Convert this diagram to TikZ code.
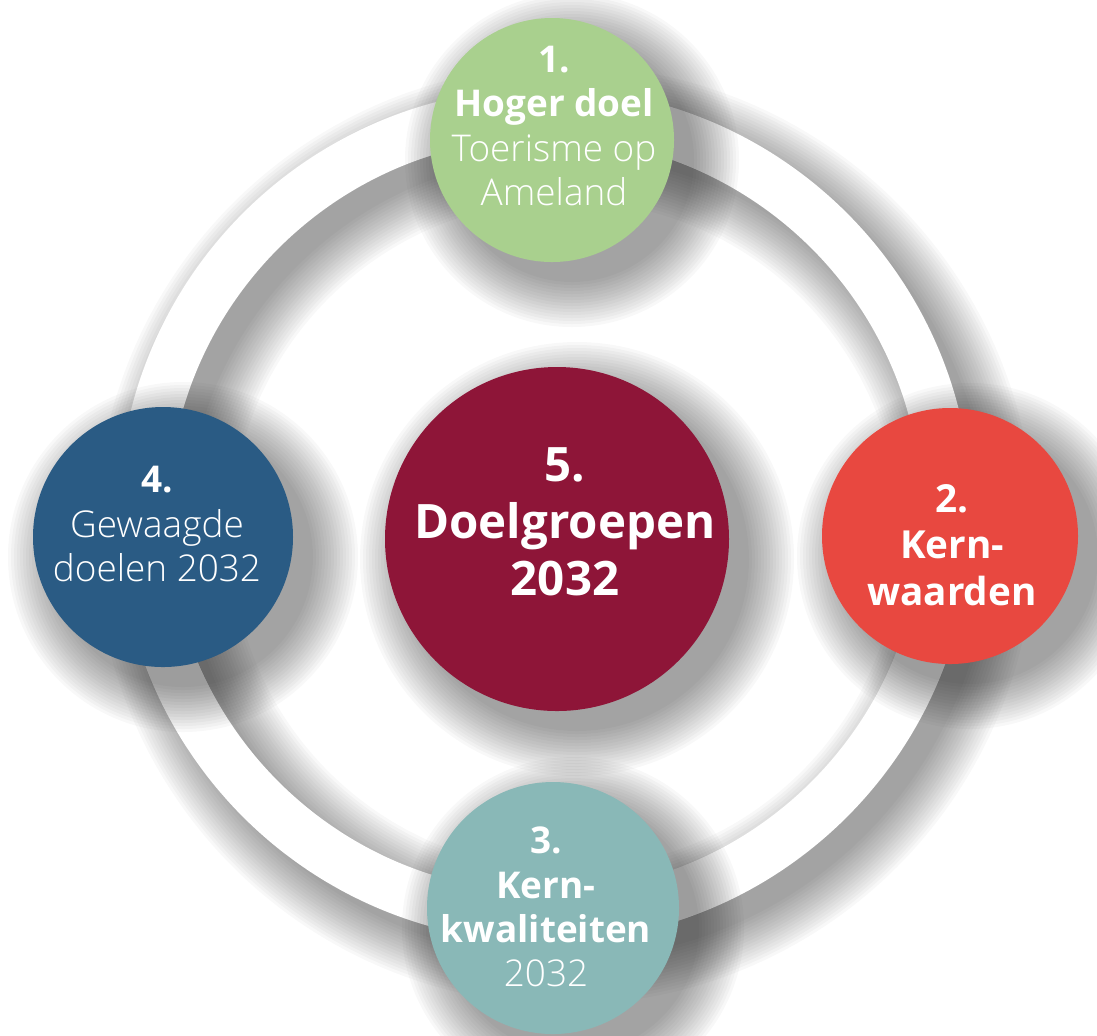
\documentclass[tikz,border=0pt]{standalone}
\usepackage{fontspec}
\setmainfont{Open Sans}
\newfontfamily\lichtfont{Open Sans Light}
\usepackage{tikz}

\definecolor{hogergroen}{HTML}{A9D08E}
\definecolor{kernrood}{HTML}{E84840}
\definecolor{kwalteal}{HTML}{89B8B7}
\definecolor{gewaagdblauw}{HTML}{2A5B84}
\definecolor{doelrood}{HTML}{8E1538}

\tikzset{
  schijf/.style={circle, minimum size=#1, inner sep=0pt},
  tekst/.style={text=white, align=center, inner sep=0pt,
    font=\fontsize{10.5}{12.6}\selectfont},
  grotetekst/.style={text=white, align=center, inner sep=0pt,
    font=\fontsize{13.5}{16.2}\selectfont\bfseries}
}

\begin{document}
\begin{tikzpicture}
    \useasboundingbox (0,0) rectangle (10.97,-10.35);

    % Shadow of the ring
    \foreach \k in {0,...,15}
      \draw[black, opacity=0.028, line width={(0.45+0.06*\k)*1cm}] (5.65,-5.35) circle (4.02);
    % Ring
    \draw[white, line width=0.5cm] (5.45,-5.15) circle (4.02);

    % Shadows of the circles
    \foreach \x/\y/\r in {5.52/-1.40/1.22, 9.50/-5.36/1.28, 5.53/-9.08/1.26,
                          1.63/-5.37/1.30, 5.57/-5.39/1.72}
      \foreach \k in {0,...,15}
        \fill[black, opacity=0.028] (\x+0.2,\y-0.2) circle ({\r+0.45-0.03*\k});

    % Circles
    \node[schijf=2.44cm, fill=hogergroen] (hoger) at (5.52,-1.40) {};
    \node[schijf=2.56cm, fill=kernrood] (kern) at (9.50,-5.36) {};
    \node[schijf=2.52cm, fill=kwalteal] (kwal) at (5.53,-9.08) {};
    \node[schijf=2.60cm, fill=gewaagdblauw] (gewaagd) at (1.63,-5.37) {};
    \node[schijf=3.44cm, fill=doelrood] (doel) at (5.57,-5.39) {};

    % Texts
    \node[tekst] (hoger-tekst) at (5.54,-1.26)
      {\textbf{1.}\\\textbf{Hoger doel}\\{\lichtfont Toerisme op}\\{\lichtfont Ameland}};
    \node[tekst, font=\fontsize{11}{13.2}\selectfont\bfseries] (kern-tekst) at (9.52,-5.45)
      {2.\\Kern-\\waarden};
    \node[tekst] (kwal-tekst) at (5.46,-9.07)
      {\textbf{3.}\\\textbf{Kern-}\\\textbf{kwaliteiten}\\{\lichtfont 2032}};
    \node[tekst] (gewaagd-tekst) at (1.57,-5.24)
      {\textbf{4.}\\{\lichtfont Gewaagde}\\{\lichtfont doelen 2032}};
    \node[grotetekst] (doel-tekst) at (5.65,-5.22)
      {5.\\Doelgroepen\\2032};
\end{tikzpicture}
\end{document}
